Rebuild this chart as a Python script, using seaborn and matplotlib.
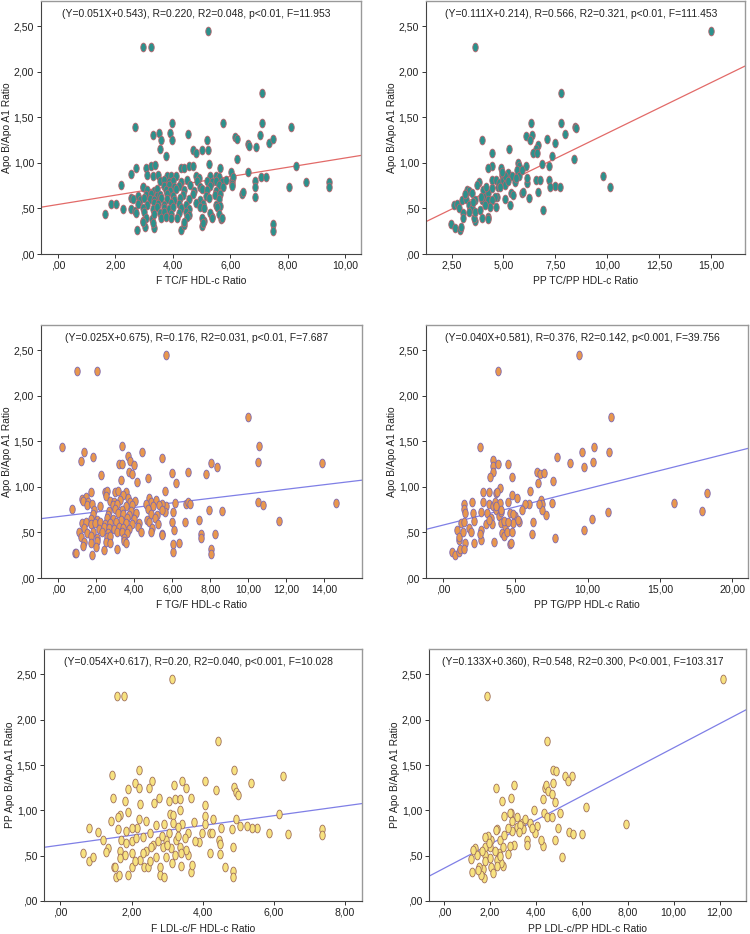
import matplotlib
matplotlib.use("Agg")
import matplotlib.pyplot as plt
import seaborn as sns
import pandas as pd
from matplotlib.path import Path
from matplotlib.transforms import Affine2D
from matplotlib.ticker import FuncFormatter, FixedLocator

# ---------------- data ----------------
# Panel 1: F TC/F HDL-c Ratio vs Apo B/Apo A1 Ratio
tc_f = [
    (5.24, 2.45), (2.97, 2.27), (3.24, 2.27), (7.12, 1.77), (7.10, 1.44), (8.13, 1.39), (2.69, 1.39),
    (3.98, 1.44), (5.73, 1.44), (3.32, 1.30), (3.52, 1.33), (3.60, 1.25), (3.91, 1.33), (3.98, 1.25),
    (4.54, 1.32), (5.19, 1.25), (6.16, 1.28), (6.22, 1.26), (6.61, 1.21), (6.66, 1.18), (6.89, 1.17),
    (7.04, 1.30), (7.33, 1.22), (7.48, 1.26), (3.54, 1.15), (3.75, 1.08), (4.71, 1.14), (4.80, 1.11),
    (5.01, 1.14), (5.24, 1.14), (6.22, 1.04), (5.26, 0.99), (8.27, 0.96), (2.54, 0.88), (2.72, 0.94),
    (3.06, 0.94), (3.24, 0.97), (3.39, 0.98), (4.28, 0.94), (4.40, 0.94), (4.55, 0.97), (4.71, 0.97),
    (5.64, 0.94), (6.60, 0.90), (6.04, 0.90), (2.20, 0.76), (1.84, 0.55), (2.03, 0.55), (1.65, 0.44),
    (2.27, 0.49), (2.56, 0.61), (2.56, 0.49), (2.69, 0.47), (2.97, 0.74), (2.97, 0.36), (3.03, 0.30),
    (2.75, 0.26), (3.26, 0.38), (3.35, 0.29), (4.28, 0.26), (4.39, 0.32), (5.03, 0.31), (5.08, 0.36),
    (5.37, 0.41), (5.68, 0.38), (7.47, 0.33), (7.47, 0.25), (8.05, 0.74), (8.63, 0.79), (9.44, 0.79),
    (9.44, 0.74), (7.07, 0.84), (7.23, 0.84), (6.85, 0.80), (6.85, 0.73), (6.85, 0.62), (6.40, 0.66),
    (6.45, 0.68), (6.05, 0.80), (6.10, 0.84),
    (3.10, 0.87), (3.30, 0.85), (3.50, 0.87), (3.80, 0.85), (3.95, 0.86), (4.10, 0.86), (4.80, 0.85),
    (4.90, 0.83), (5.30, 0.85), (5.50, 0.86), (5.60, 0.84),
    (3.55, 0.80), (3.70, 0.81), (3.85, 0.79), (4.00, 0.80), (4.30, 0.79), (4.50, 0.81), (4.85, 0.80),
    (5.20, 0.80), (5.35, 0.79), (5.50, 0.80), (5.70, 0.79), (5.85, 0.81), (6.05, 0.77),
    (2.95, 0.74), (3.70, 0.75), (3.85, 0.76), (4.05, 0.74), (4.20, 0.75), (4.60, 0.76), (4.95, 0.74),
    (5.30, 0.75), (5.60, 0.76), (5.75, 0.74), (6.05, 0.75),
    (3.10, 0.70), (3.35, 0.69), (3.45, 0.71), (3.75, 0.70), (3.90, 0.69), (4.10, 0.71), (4.40, 0.70),
    (4.75, 0.69), (5.00, 0.71), (5.20, 0.70), (5.50, 0.69),
    (2.80, 0.64), (3.05, 0.65), (3.25, 0.66), (3.45, 0.64), (3.55, 0.65), (3.80, 0.66), (4.00, 0.64),
    (4.35, 0.65), (4.70, 0.66), (5.15, 0.64), (5.45, 0.65), (5.65, 0.66),
    (2.60, 0.60), (2.85, 0.59), (3.00, 0.61), (3.20, 0.60), (3.35, 0.59), (3.60, 0.61), (3.80, 0.60),
    (4.05, 0.59), (4.25, 0.61), (4.55, 0.60), (4.95, 0.59), (5.25, 0.61), (5.60, 0.60),
    (2.80, 0.55), (3.10, 0.54), (3.35, 0.56), (3.50, 0.55), (3.70, 0.54), (3.95, 0.56), (4.20, 0.55),
    (4.45, 0.54), (4.80, 0.56), (5.05, 0.55), (5.50, 0.54), (5.65, 0.53),
    (2.95, 0.50), (3.30, 0.49), (3.45, 0.51), (3.70, 0.50), (3.85, 0.49), (4.00, 0.51), (4.30, 0.50),
    (4.55, 0.49), (4.95, 0.51), (5.10, 0.50), (5.55, 0.51),
    (2.70, 0.45), (3.00, 0.46), (3.35, 0.44), (3.55, 0.45), (3.70, 0.46), (3.95, 0.44), (4.20, 0.45),
    (4.45, 0.46), (4.55, 0.43), (5.30, 0.45), (5.60, 0.44),
    (3.05, 0.40), (3.60, 0.39), (3.75, 0.41), (3.95, 0.40), (4.15, 0.39), (4.50, 0.41), (5.00, 0.40),
    (5.35, 0.39), (5.70, 0.40), (2.95, 0.35), (3.30, 0.34), (4.40, 0.35), (5.05, 0.34),
]

# Panel 2: PP TC/PP HDL-c Ratio vs Apo B/Apo A1 Ratio
tc_pp = [
    (15.00, 2.45), (3.61, 2.27), (7.76, 1.77), (7.78, 1.44), (6.33, 1.44), (8.45, 1.39), (8.50, 1.38),
    (7.96, 1.32), (3.99, 1.25), (6.09, 1.29), (6.38, 1.31), (6.29, 1.25), (7.12, 1.26), (7.49, 1.22),
    (6.69, 1.20), (6.56, 1.15), (6.43, 1.11), (6.64, 1.11), (5.29, 1.15), (4.43, 1.11), (7.33, 1.08),
    (8.42, 1.04), (4.43, 0.97), (4.25, 0.94), (5.69, 1.00), (5.76, 0.96), (6.11, 0.97), (6.85, 0.99),
    (7.20, 0.97), (9.82, 0.85), (10.14, 0.74), (6.93, 0.48), (7.49, 0.75), (7.73, 0.74), (7.22, 0.81),
    (7.25, 0.74), (6.69, 0.68), (6.58, 0.81), (6.74, 0.81), (6.25, 0.61), (5.89, 0.67), (5.95, 0.68),
    (6.13, 0.78), (5.37, 0.67), (5.48, 0.65), (5.32, 0.54), (5.08, 0.60), (4.63, 0.52), (4.70, 0.62),
    (4.28, 0.41), (4.28, 0.38), (3.96, 0.39), (3.64, 0.36), (3.60, 0.39), (2.49, 0.33), (2.68, 0.29),
    (2.89, 0.26), (2.97, 0.30), (2.61, 0.54), (2.74, 0.55), (2.87, 0.50), (3.00, 0.59), (3.19, 0.60),
    (3.24, 0.70), (3.35, 0.69), (3.48, 0.67), (3.32, 0.54), (3.48, 0.50), (3.35, 0.46), (3.03, 0.45),
    (3.03, 0.39), (3.64, 0.59), (3.64, 0.46), (3.80, 0.79), (3.72, 0.76), (3.85, 0.48), (4.04, 0.70),
    (4.12, 0.63), (4.28, 0.67), (4.28, 0.59), (4.44, 0.72), (4.47, 0.81), (4.63, 0.81), (4.76, 0.74),
    (4.81, 0.78), (4.87, 0.94), (4.92, 0.87), (4.97, 0.81), (5.08, 0.76), (5.24, 0.89), (5.40, 0.85),
    (5.56, 0.79), (5.64, 0.92), (5.77, 0.85), (5.89, 0.92), (6.13, 0.83), (5.08, 0.85), (4.84, 0.74),
    (4.60, 0.63), (4.44, 0.59), (4.36, 0.52), (3.96, 0.59), (4.09, 0.54), (3.15, 0.66), (3.55, 0.57),
    (3.90, 0.62), (4.95, 0.90), (5.60, 0.83), (5.20, 0.80), (4.15, 0.73),
]

# Panel 3: F TG/F HDL-c Ratio vs Apo B/Apo A1 Ratio
tg_f = [
    (5.66, 2.45), (1.00, 2.27), (2.02, 2.27), (10.01, 1.77), (0.18, 1.44), (3.37, 1.45), (10.59, 1.45),
    (10.50, 1.28), (13.88, 1.26), (14.63, 0.82), (10.50, 0.84), (10.80, 0.80), (11.65, 0.63),
    (1.37, 1.39), (1.19, 1.29), (1.84, 1.33), (2.23, 1.13), (4.43, 1.38), (5.48, 1.32), (3.67, 1.34),
    (3.77, 1.29), (3.20, 1.25), (3.37, 1.25), (3.97, 1.24), (3.74, 1.17), (3.86, 1.14), (4.13, 1.06),
    (3.32, 1.08), (4.71, 1.10), (6.01, 1.15), (6.18, 1.04), (6.85, 1.17), (7.78, 1.14), (8.03, 1.26),
    (8.38, 1.22), (5.64, 0.96), (0.74, 0.76), (0.90, 0.27), (0.95, 0.28), (1.76, 0.25), (2.42, 0.31),
    (3.08, 0.32), (6.02, 0.29), (6.02, 0.37), (6.36, 0.38), (8.03, 0.32), (8.03, 0.26), (8.24, 0.48),
    (7.50, 0.48), (7.50, 0.44), (7.43, 0.64), (6.67, 0.62), (7.92, 0.75), (8.61, 0.74), (6.71, 0.81),
    (6.85, 0.84), (6.96, 0.81), (6.15, 0.82), (6.02, 0.73), (6.10, 0.53), (6.01, 0.62), (5.48, 0.48),
    (5.44, 0.47), (5.66, 0.79), (5.64, 0.73), (5.48, 0.81),
    (1.75, 0.94), (2.45, 0.95), (2.55, 0.96), (3.00, 0.94), (3.15, 0.96), (3.55, 0.95),
    (1.25, 0.87), (1.45, 0.89), (2.50, 0.90), (3.40, 0.91), (3.65, 0.88), (4.80, 0.88),
    (1.30, 0.85), (1.55, 0.84), (2.70, 0.85), (2.95, 0.84), (3.25, 0.86), (3.80, 0.84), (4.05, 0.85),
    (4.90, 0.84), (5.15, 0.86),
    (1.50, 0.80), (1.80, 0.81), (2.20, 0.79), (2.90, 0.80), (3.10, 0.81), (3.55, 0.79), (3.90, 0.80),
    (4.60, 0.81), (5.00, 0.79), (5.30, 0.80),
    (1.90, 0.75), (2.65, 0.74), (3.00, 0.76), (3.35, 0.75), (3.85, 0.74), (4.75, 0.76), (5.45, 0.75),
    (1.85, 0.70), (2.60, 0.69), (3.15, 0.71), (3.40, 0.70), (3.75, 0.69), (4.10, 0.71), (4.90, 0.70),
    (5.20, 0.69),
    (1.70, 0.65), (2.05, 0.64), (2.55, 0.66), (2.90, 0.65), (3.30, 0.64), (3.60, 0.66), (4.00, 0.65),
    (4.65, 0.64), (5.10, 0.66),
    (1.25, 0.60), (1.45, 0.61), (1.70, 0.59), (1.95, 0.60), (2.20, 0.61), (2.45, 0.59), (2.75, 0.60),
    (3.05, 0.61), (3.55, 0.60), (3.90, 0.59), (4.25, 0.60), (4.80, 0.61), (5.25, 0.59),
    (1.35, 0.55), (2.15, 0.54), (2.40, 0.56), (2.65, 0.55), (2.95, 0.54), (3.20, 0.56), (3.40, 0.55),
    (3.75, 0.54), (4.20, 0.56), (4.95, 0.55),
    (1.10, 0.50), (1.50, 0.49), (1.85, 0.51), (2.30, 0.50), (2.60, 0.49), (3.10, 0.50), (3.35, 0.51),
    (3.60, 0.49), (4.35, 0.51), (4.90, 0.50),
    (1.20, 0.45), (1.75, 0.46), (2.05, 0.44), (2.55, 0.45), (2.75, 0.46), (3.45, 0.44),
    (1.35, 0.40), (1.75, 0.39), (2.05, 0.41), (2.50, 0.40), (2.75, 0.39), (3.45, 0.41), (3.55, 0.39),
    (1.30, 0.35), (2.00, 0.34),
]

# Panel 4: PP TG/PP HDL-c Ratio vs Apo B/Apo A1 Ratio
tg_pp = [
    (9.43, 2.45), (3.79, 2.27), (11.61, 1.77), (2.53, 1.44), (10.44, 1.44), (9.59, 1.38), (11.49, 1.39),
    (7.89, 1.33), (8.78, 1.26), (10.39, 1.28), (9.77, 1.22), (3.49, 1.30), (3.43, 1.23), (3.45, 1.17),
    (3.79, 1.25), (4.48, 1.25), (3.26, 1.11), (4.80, 1.11), (6.53, 1.17), (6.71, 1.14), (6.97, 1.15),
    (7.63, 1.07), (6.55, 1.04), (6.02, 0.96), (3.93, 0.99), (2.80, 0.95), (3.15, 0.94), (3.66, 0.93),
    (4.76, 0.91), (5.13, 0.88), (18.28, 0.93), (15.98, 0.82), (17.91, 0.74), (11.38, 0.73),
    (10.28, 0.65), (9.77, 0.53), (7.75, 0.44), (7.56, 0.82), (7.10, 0.69), (6.76, 0.86), (6.83, 0.81),
    (6.83, 0.75), (6.64, 0.81), (6.18, 0.48), (6.25, 0.61), (5.95, 0.81), (5.68, 0.81), (5.49, 0.75),
    (5.29, 0.62), (4.99, 0.68), (4.64, 0.71), (4.53, 0.83), (4.60, 0.37), (4.71, 0.38), (3.54, 0.40),
    (1.54, 0.39), (0.62, 0.29), (0.85, 0.25), (1.08, 0.29), (1.20, 0.32), (1.49, 0.32), (0.97, 0.53),
    (1.08, 0.42), (1.13, 0.45), (1.38, 0.51), (1.26, 0.60), (1.43, 0.81), (1.43, 0.76), (1.54, 0.71),
    (1.49, 0.61), (1.77, 0.55), (1.95, 0.51), (2.00, 0.84), (2.11, 0.71), (2.18, 0.63), (2.18, 0.38),
    (2.64, 0.73), (2.64, 0.53), (2.64, 0.42), (2.80, 0.83), (3.03, 0.71), (3.00, 0.59), (3.15, 0.81),
    (3.31, 0.66), (3.38, 0.59), (3.49, 0.79), (3.66, 0.75), (3.61, 0.84), (3.77, 0.94), (3.84, 0.68),
    (3.93, 0.82), (4.00, 0.73), (4.02, 0.60), (4.11, 0.49), (4.21, 0.46), (4.30, 0.57), (4.41, 0.51),
    (4.02, 0.75), (4.25, 0.63), (4.76, 0.50), (4.87, 0.60), (5.22, 0.64), (2.55, 0.48), (3.20, 0.64),
    (3.70, 0.79), (4.50, 0.62), (4.85, 0.70),
]

# Panel 5: F LDL-c/F HDL-c Ratio vs PP Apo B/Apo A1 Ratio
ldl_f = [
    (3.14, 2.45), (1.59, 2.26), (1.78, 2.26), (4.42, 1.77), (1.46, 1.39), (2.21, 1.44), (4.87, 1.44),
    (6.27, 1.38), (5.35, 1.30), (4.07, 1.32), (4.38, 1.22), (3.43, 1.32), (2.58, 1.32), (2.09, 1.30),
    (3.20, 1.28), (3.54, 1.25), (2.49, 1.25), (2.21, 1.25), (1.90, 1.24), (3.66, 1.14), (2.77, 1.14),
    (3.05, 1.10), (3.23, 1.12), (3.37, 1.12), (1.48, 1.14), (1.83, 1.10), (2.62, 1.08), (2.25, 1.07),
    (4.87, 1.26), (4.94, 1.20), (5.00, 1.17), (4.07, 1.06), (4.07, 0.94), (3.37, 1.00), (3.07, 0.96),
    (3.17, 0.95), (6.16, 0.96), (1.90, 0.98), (1.67, 0.95), (1.61, 0.93), (1.42, 0.88), (4.94, 0.90),
    (4.29, 0.91), (0.81, 0.80), (1.06, 0.76), (1.20, 0.67), (1.34, 0.59), (1.27, 0.54), (0.64, 0.53),
    (0.81, 0.44), (0.92, 0.48), (1.50, 0.38), (1.57, 0.26), (1.65, 0.29), (1.91, 0.29), (2.02, 0.38),
    (2.34, 0.38), (2.45, 0.38), (2.79, 0.37), (2.79, 0.29), (2.91, 0.26), (3.13, 0.42), (3.38, 0.39),
    (3.67, 0.32), (3.71, 0.40), (4.64, 0.38), (4.85, 0.33), (4.85, 0.26), (4.85, 0.60), (4.48, 0.52),
    (4.20, 0.53), (3.90, 0.65), (3.59, 0.51), (5.86, 0.75), (6.40, 0.74), (5.53, 0.80), (5.39, 0.81),
    (5.25, 0.83), (5.06, 0.83), (7.35, 0.79), (7.35, 0.73), (4.82, 0.79), (4.51, 0.80), (4.45, 0.67),
    (4.50, 0.63), (4.20, 0.75), (4.27, 0.75), (4.07, 0.85), (3.99, 0.75), (3.75, 0.87), (3.59, 0.75),
    (3.43, 0.85), (3.32, 0.82), (3.17, 0.86), (3.05, 0.75), (2.91, 0.85), (2.70, 0.84), (2.42, 0.88),
    (2.16, 0.80), (2.02, 0.80), (1.85, 0.77), (1.63, 0.79), (1.71, 0.67), (1.85, 0.64), (2.00, 0.66),
    (2.14, 0.69), (2.32, 0.71), (2.51, 0.75), (2.60, 0.62), (2.74, 0.66), (2.88, 0.60), (2.98, 0.67),
    (3.12, 0.58), (3.24, 0.67), (3.35, 0.60), (3.49, 0.69), (3.54, 0.56), (3.78, 0.66), (1.67, 0.55),
    (1.81, 0.51), (2.00, 0.53), (2.23, 0.45), (2.40, 0.55), (2.51, 0.44), (2.70, 0.49), (2.98, 0.49),
    (3.21, 0.51), (1.67, 0.47), (1.53, 0.38), (2.09, 0.44), (2.32, 0.53), (3.40, 0.53), (2.20, 0.90),
    (2.55, 0.60), (3.00, 0.62), (3.30, 0.72), (2.85, 0.72),
]

# Panel 6: PP LDL-c/PP HDL-c Ratio vs PP Apo B/Apo A1 Ratio
ldl_pp = [
    (12.17, 2.45), (1.89, 2.26), (4.47, 1.77), (4.73, 1.44), (4.86, 1.43), (5.27, 1.38), (5.56, 1.38),
    (5.41, 1.32), (4.73, 1.30), (3.06, 1.28), (2.26, 1.25), (2.92, 1.14), (2.51, 1.10), (4.40, 1.25),
    (4.43, 1.28), (4.54, 1.21), (4.69, 1.18), (4.32, 1.12), (4.83, 1.09), (6.17, 1.04), (5.05, 0.97),
    (4.37, 0.97), (4.47, 0.93), (4.69, 0.93), (3.90, 1.00), (2.92, 0.97), (3.16, 0.93), (2.63, 0.94),
    (7.92, 0.85), (4.95, 0.80), (6.02, 0.74), (5.44, 0.76), (5.60, 0.74), (4.83, 0.67), (5.15, 0.48),
    (4.32, 0.61), (4.22, 0.67), (4.03, 0.83), (3.96, 0.75), (3.74, 0.86), (3.82, 0.80), (3.60, 0.67),
    (3.60, 0.62), (3.38, 0.86), (3.45, 0.79), (3.16, 0.82), (2.95, 0.88), (2.97, 0.77), (2.87, 0.97),
    (2.77, 0.80), (3.06, 0.62), (2.87, 0.61), (2.77, 0.52), (2.58, 0.39), (2.48, 0.42), (2.39, 0.53),
    (2.29, 0.79), (2.25, 0.78), (2.44, 0.67), (2.58, 0.60), (2.32, 0.45), (2.29, 0.39), (2.07, 0.38),
    (2.00, 0.47), (2.00, 0.60), (2.07, 0.67), (1.93, 0.72), (1.78, 0.71), (1.78, 0.60), (1.78, 0.51),
    (1.78, 0.44), (1.71, 0.35), (1.76, 0.25), (1.60, 0.29), (1.54, 0.38), (1.64, 0.55), (1.35, 0.59),
    (1.42, 0.51), (1.25, 0.56), (1.18, 0.46), (1.23, 0.32), (1.49, 0.34), (2.22, 0.55), (2.15, 0.31),
    (3.30, 0.84), (3.55, 0.90), (2.60, 0.73), (1.95, 0.64), (2.45, 0.50), (3.25, 0.76),
]

# Axis ticks / labels / fitted equations
x_ticks = [
    [0, 2, 4, 6, 8, 10],
    [2.5, 5, 7.5, 10, 12.5, 15],
    [0, 2, 4, 6, 8, 10, 12, 14],
    [0, 5, 10, 15, 20],
    [0, 2, 4, 6, 8],
    [0, 2, 4, 6, 8, 10, 12],
]
y_ticks = [0, 0.5, 1.0, 1.5, 2.0, 2.5]
x_labels = ["F TC/F HDL-c Ratio", "PP TC/PP HDL-c Ratio", "F TG/F HDL-c Ratio",
            "PP TG/PP HDL-c Ratio", "F LDL-c/F HDL-c Ratio", "PP LDL-c/PP HDL-c Ratio"]
y_labels = ["Apo B/Apo A1 Ratio", "Apo B/Apo A1 Ratio", "Apo B/Apo A1 Ratio",
            "Apo B/Apo A1 Ratio", "PP Apo B/Apo A1 Ratio", "PP Apo B/Apo A1 Ratio"]
stats_text = [
    "(Y=0.051X+0.543), R=0.220, R2=0.048, p<0.01, F=11.953",
    "(Y=0.111X+0.214), R=0.566, R2=0.321, p<0.01, F=111.453",
    "(Y=0.025X+0.675), R=0.176, R2=0.031, p<0.01, F=7.687",
    "(Y=0.040X+0.581), R=0.376, R2=0.142, p<0.001, F=39.756",
    "(Y=0.054X+0.617), R=0.20, R2=0.040, p<0.001, F=10.028",
    "(Y=0.133X+0.360), R=0.548, R2=0.300, P<0.001, F=103.317",
]
slopes = [0.051, 0.111, 0.025, 0.040, 0.054, 0.133]
intercepts = [0.543, 0.214, 0.675, 0.581, 0.617, 0.360]

# ---------------- styling / layout ----------------
sns.set_theme(style="white")
plt.rcParams["font.family"] = ["Liberation Sans", "DejaVu Sans"]

W, H = 750, 934
fig = plt.figure(figsize=(W / 100, H / 100), dpi=100)

# pixel boxes: left, right, top, bottom
boxes = [
    (41, 361, 0.5, 254), (426, 745, 0.5, 254),
    (41, 362, 325, 578), (426, 748, 325, 578),
    (44, 362, 649, 901), (429, 746, 649, 901),
]
xlims = [(-0.59, 10.55), (1.27, 16.64), (-0.91, 16.0), (-1.17, 21.08), (-0.46, 8.48), (-0.65, 13.15)]
fills = ["#2b918c", "#2b918c", "#e9974c", "#e9974c", "#f7e27f", "#f7e27f"]
edges = ["#b5656e", "#b5656e", "#7d68b0", "#7d68b0", "#a0705a", "#a0705a"]
lines = ["#e26a68", "#e26a68", "#7f7fe6", "#7f7fe6", "#7f7fe6", "#7f7fe6"]
datasets = [tc_f, tc_pp, tg_f, tg_pp, ldl_f, ldl_pp]

ellipse = Path.unit_circle().transformed(Affine2D().scale(0.62, 1.0))


def fmt(v, pos):
    s = f"{v:.2f}".replace(".", ",")
    if s.startswith("0,"):
        s = s[1:]
    return s


for i, (l, r, t, b) in enumerate(boxes):
    ax = fig.add_axes([l / W, 1 - b / H, (r - l) / W, (b - t) / H])
    df = pd.DataFrame(datasets[i], columns=["x", "y"])
    sns.scatterplot(data=df, x="x", y="y", ax=ax, marker=ellipse, s=40,
                    color=fills[i], edgecolor=edges[i], linewidth=0.6, zorder=3)
    ax.axline((0, intercepts[i]), slope=slopes[i], color=lines[i], lw=0.9, zorder=2)
    ax.set_xlim(*xlims[i])
    ax.set_ylim(0, 2.78)
    ax.xaxis.set_major_locator(FixedLocator(x_ticks[i]))
    ax.yaxis.set_major_locator(FixedLocator(y_ticks))
    ax.xaxis.set_major_formatter(FuncFormatter(fmt))
    ax.yaxis.set_major_formatter(FuncFormatter(fmt))
    ax.tick_params(bottom=True, left=True, direction="out", length=3, width=0.7,
                   color="#333333", labelsize=7.6, pad=2, labelcolor="#222222")
    ax.set_xlabel(x_labels[i], fontsize=7.4, color="#222222", labelpad=4)
    ax.set_ylabel(y_labels[i], fontsize=7.4, color="#222222", labelpad=1.5)
    for side in ["left", "bottom"]:
        ax.spines[side].set_color("#444444")
        ax.spines[side].set_linewidth(0.8)
    for side in ["top", "right"]:
        ax.spines[side].set_color("#999999")
        ax.spines[side].set_linewidth(1.0)
    ax.text(0.485, 1 - 13 / (b - t), stats_text[i], transform=ax.transAxes,
            ha="center", va="center", fontsize=7.5, color="#222222")

fig.savefig("out.png", dpi=100)
